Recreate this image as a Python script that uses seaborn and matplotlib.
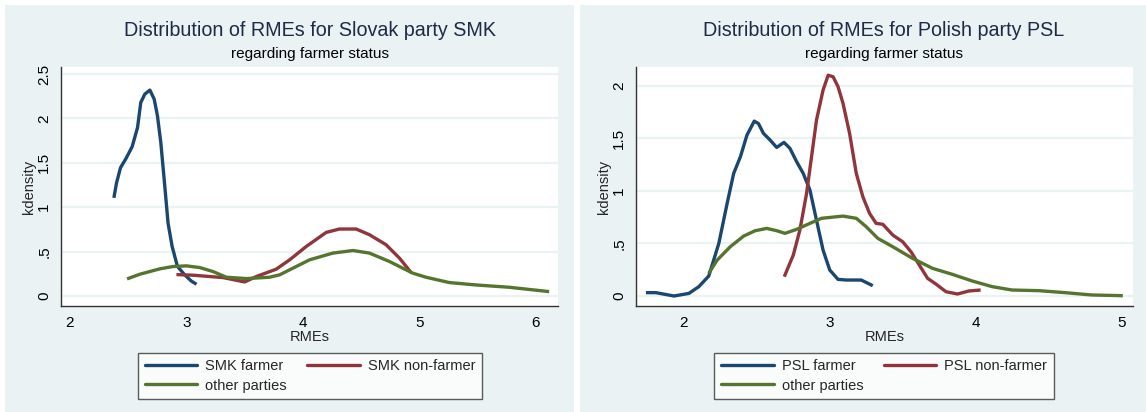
import pandas as pd
import seaborn as sns
import matplotlib.pyplot as plt
from matplotlib.patches import Rectangle
from matplotlib.lines import Line2D
from matplotlib.ticker import FuncFormatter


# Slovak party SMK - kernel density curves
smk_farmer_x = [2.377, 2.40, 2.434, 2.48, 2.534, 2.58, 2.608, 2.643, 2.686, 2.723, 2.751,
                2.78, 2.814, 2.842, 2.877, 2.923, 2.985, 3.04, 3.086]
smk_farmer_y = [1.105, 1.275, 1.445, 1.546, 1.682, 1.897, 2.18, 2.274, 2.319, 2.217, 2.03,
                1.727, 1.237, 0.822, 0.558, 0.332, 0.238, 0.17, 0.132]

smk_nonfarmer_x = [2.914, 3.057, 3.314, 3.50, 3.60, 3.771, 3.886, 4.029, 4.2, 4.314, 4.457,
                   4.571, 4.714, 4.829, 4.929]
smk_nonfarmer_y = [0.241, 0.234, 0.207, 0.158, 0.219, 0.302, 0.407, 0.558, 0.716, 0.754, 0.754,
                   0.69, 0.577, 0.426, 0.264]

smk_other_x = [2.49, 2.6, 2.77, 2.886, 3.0, 3.114, 3.228, 3.343, 3.514, 3.714, 3.80, 3.914,
               4.057, 4.257, 4.43, 4.571, 4.743, 4.943, 5.057, 5.257, 5.486, 5.771, 6.114]
smk_other_y = [0.192, 0.245, 0.305, 0.332, 0.339, 0.32, 0.275, 0.211, 0.196, 0.211, 0.238, 0.313,
               0.407, 0.483, 0.512, 0.483, 0.388, 0.257, 0.211, 0.151, 0.124, 0.098, 0.049]

# Polish party PSL
psl_farmer_x = [1.739, 1.807, 1.932, 2.034, 2.102, 2.17, 2.239, 2.296, 2.341, 2.387, 2.432,
                2.482, 2.511, 2.545, 2.591, 2.636, 2.686, 2.727, 2.773, 2.818, 2.864, 2.909,
                2.954, 3.0, 3.057, 3.114, 3.216, 3.295]
psl_farmer_y = [0.032, 0.032, 0.0, 0.025, 0.089, 0.19, 0.5, 0.88, 1.166, 1.324, 1.53,
                1.663, 1.64, 1.547, 1.483, 1.413, 1.461, 1.404, 1.277, 1.166, 1.008, 0.722,
                0.437, 0.247, 0.158, 0.152, 0.152, 0.098]

psl_nonfarmer_x = [2.688, 2.75, 2.795, 2.841, 2.875, 2.909, 2.954, 2.989, 3.023, 3.057, 3.091,
                   3.136, 3.182, 3.227, 3.273, 3.318, 3.364, 3.432, 3.5, 3.557, 3.614, 3.671,
                   3.728, 3.797, 3.876, 3.955, 4.035]
psl_nonfarmer_y = [0.184, 0.39, 0.627, 0.976, 1.324, 1.673, 1.958, 2.1, 2.085, 1.99, 1.832,
                   1.547, 1.166, 0.944, 0.786, 0.691, 0.682, 0.58, 0.516, 0.421, 0.295, 0.168,
                   0.114, 0.041, 0.019, 0.048, 0.057]

psl_other_x = [2.17, 2.228, 2.318, 2.409, 2.489, 2.568, 2.636, 2.693, 2.773, 2.864, 2.943,
               3.091, 3.182, 3.25, 3.33, 3.432, 3.568, 3.705, 3.841, 3.977, 4.114, 4.25,
               4.432, 4.614, 4.795, 5.01]
psl_other_y = [0.216, 0.342, 0.469, 0.57, 0.621, 0.643, 0.621, 0.596, 0.634, 0.691, 0.739,
               0.76, 0.739, 0.659, 0.548, 0.469, 0.358, 0.263, 0.206, 0.143, 0.089, 0.057,
               0.051, 0.032, 0.01, 0.003]

smk_yticks = [0, 0.5, 1, 1.5, 2, 2.5]
psl_yticks = [0, 0.5, 1, 1.5, 2]
smk_xticks = [2, 3, 4, 5, 6]
psl_xticks = [2, 3, 4, 5]


def make_df(parts):
    frames = []
    for name, xs, ys in parts:
        frames.append(pd.DataFrame({'RMEs': xs, 'kdensity': ys, 'group': name}))
    return pd.concat(frames, ignore_index=True)


smk_df = make_df([('SMK farmer', smk_farmer_x, smk_farmer_y),
                  ('SMK non-farmer', smk_nonfarmer_x, smk_nonfarmer_y),
                  ('other parties', smk_other_x, smk_other_y)])
psl_df = make_df([('PSL farmer', psl_farmer_x, psl_farmer_y),
                  ('PSL non-farmer', psl_nonfarmer_x, psl_nonfarmer_y),
                  ('other parties', psl_other_x, psl_other_y)])

# Stata s2color-like colours
navy = '#1a476f'
maroon = '#90353b'
green = '#55752f'
bg = '#eaf2f3'
title_col = '#1c2b48'

sns.set_style("white")
plt.rcParams['font.family'] = ['Liberation Sans', 'DejaVu Sans']

W, H = 1146, 412
fig = plt.figure(figsize=(W / 100, H / 100), dpi=100)
fig.patch.set_facecolor('white')

# panel backgrounds (kept behind the axes)
fig.patches.append(Rectangle((5 / W, 0), 569 / W, 407 / H, transform=fig.transFigure,
                             facecolor=bg, edgecolor='none', zorder=-10))
fig.patches.append(Rectangle((580 / W, 0), 566 / W, 407 / H, transform=fig.transFigure,
                             facecolor=bg, edgecolor='none', zorder=-10))


def px_axes(x0, x1, top, bottom):
    return fig.add_axes([x0 / W, (H - bottom) / H, (x1 - x0) / W, (bottom - top) / H])


def style_panel(ax, df, names, title, xlim, ylim, xticks, yticks, center_x):
    pal = {names[0]: navy, names[1]: maroon, names[2]: green}
    sns.lineplot(data=df, x='RMEs', y='kdensity', hue='group', palette=pal, sort=False,
                 estimator=None, lw=2.4, legend=False, ax=ax)
    for line in ax.lines:
        line.set_solid_capstyle('butt')
        line.set_solid_joinstyle('round')

    ax.set_zorder(1)
    ax.set_facecolor('white')
    ax.set_xlim(*xlim)
    ax.set_ylim(*ylim)
    ax.set_xticks(xticks)
    ax.set_yticks(yticks)
    ax.yaxis.set_major_formatter(FuncFormatter(
        lambda v, _: '0' if v == 0 else (f'{v:g}'[1:] if v < 1 else f'{v:g}')))
    ax.grid(True, axis='y', color=bg, lw=1.6)
    ax.grid(False, axis='x')
    ax.set_axisbelow(True)
    for side in ['top', 'right']:
        ax.spines[side].set_visible(False)
    for side in ['left', 'bottom']:
        ax.spines[side].set_color('#333333')
        ax.spines[side].set_linewidth(1.0)
    ax.tick_params(axis='both', direction='out', length=4, width=1, color='#333333',
                   labelsize=11, labelcolor='black', pad=3)
    plt.setp(ax.get_yticklabels(), rotation=90, va='center')
    ax.set_xlabel('RMEs', fontsize=10.5, labelpad=0)
    ax.set_ylabel('kdensity', fontsize=10.5, labelpad=1)

    fig.text(center_x / W, (H - 30) / H, title, ha='center', va='center',
             fontsize=14.2, color=title_col, zorder=2)
    fig.text(center_x / W, (H - 54) / H, 'regarding farmer status', ha='center', va='center',
             fontsize=11, color='black', zorder=2)

    handles = [Line2D([], [], color=navy, lw=2.4),
               Line2D([], [], color=green, lw=2.4),
               Line2D([], [], color=maroon, lw=2.4)]
    labels = [names[0], names[2], names[1]]
    leg = ax.legend(handles, labels, ncol=2, loc='center',
                    bbox_to_anchor=(center_x / W, (H - 376) / H), bbox_transform=fig.transFigure,
                    fontsize=10.5, frameon=True, fancybox=False, handlelength=3.6,
                    handletextpad=0.55, columnspacing=1.4, labelspacing=0.35, borderpad=0.45)
    leg.get_frame().set_edgecolor('#333333')
    leg.get_frame().set_linewidth(1.0)


ax1 = px_axes(61, 558, 67, 306)
style_panel(ax1, smk_df, ['SMK farmer', 'SMK non-farmer', 'other parties'],
            'Distribution of RMEs for Slovak party SMK',
            (1.923, 6.19), (-0.113, 2.579), smk_xticks, smk_yticks, 310)

ax2 = px_axes(636, 1133, 67, 306)
style_panel(ax2, psl_df, ['PSL farmer', 'PSL non-farmer', 'other parties'],
            'Distribution of RMEs for Polish party PSL',
            (1.671, 5.08), (-0.095, 2.178), psl_xticks, psl_yticks, 884)

plt.savefig('out.png', dpi=100)
plt.close()
